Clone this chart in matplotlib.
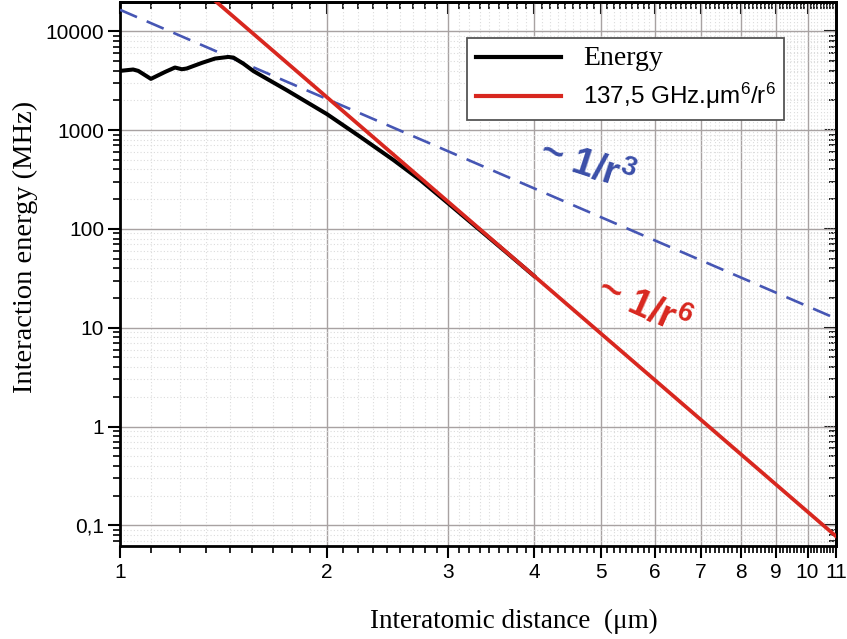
import numpy as np
import matplotlib
matplotlib.use("Agg")
import matplotlib.pyplot as plt
from matplotlib.ticker import FixedLocator, FixedFormatter, NullFormatter

# ---- data ----
energy_r = [1.0, 1.045, 1.063, 1.109, 1.163, 1.202, 1.230, 1.250, 1.315, 1.375,
            1.437, 1.462, 1.512, 1.564, 1.748, 2.0, 2.236, 2.499, 2.734, 3.0,
            3.3, 3.6, 4.0]
energy_v = [3975, 4105, 3975, 3300, 3880, 4300, 4130, 4200, 4786, 5300,
            5500, 5420, 4700, 3950, 2535, 1451, 855, 498, 312, 182,
            104, 62.5, 33.5]
c6 = 137500.0   # MHz.um^6  (137,5 GHz.um^6)
c3 = 16500.0    # MHz.um^3
r_fit = [1.0, 11.0]

x_ticks = [1, 2, 3, 4, 5, 6, 7, 8, 9, 10, 11]
x_ticklabels = ["1", "2", "3", "4", "5", "6", "7", "8", "9", "10", "11"]
y_ticks = [0.1, 1, 10, 100, 1000, 10000]
y_ticklabels = ["0,1", "1", "10", "100", "1000", "10000"]

plt.rcParams['mathtext.fontset'] = 'custom'
plt.rcParams['mathtext.rm'] = 'Liberation Sans'
plt.rcParams['mathtext.it'] = 'Liberation Sans:italic'
plt.rcParams['mathtext.bf'] = 'Liberation Sans:bold'

fig = plt.figure(figsize=(8.47, 6.39), dpi=100)
ax = fig.add_axes([0.1417, 0.1455, 0.987 - 0.1417, 0.9969 - 0.1455])
ax.set_xscale('log')
ax.set_yscale('log')
ax.set_xlim(1, 11)
ax.set_ylim(0.0618, 19800)

red = '#d8271f'
blue = '#4656b4'

rr = np.array(r_fit)
rline = np.geomspace(rr[0], rr[1], 200)
ax.plot(rline, c3 / rline**3, color=blue, lw=1.9, dashes=(7, 4), zorder=3)
ax.plot(energy_r, energy_v, color='black', lw=2.9, zorder=4, label='Energy')
ax.plot(rline, c6 / rline**6, color=red, lw=2.7, zorder=5,
        label=r'137,5 GHz.$\mathrm{\mu}$m$^{6}$/r$^{6}$')

# ticks (Origin style: 8 linear minor ticks between majors on x)
ax.xaxis.set_major_locator(FixedLocator(x_ticks))
ax.xaxis.set_major_formatter(FixedFormatter(x_ticklabels))
xminor = [i + k / 9 for i in range(1, 11) for k in range(1, 9)]
ax.xaxis.set_minor_locator(FixedLocator(xminor))
ax.xaxis.set_minor_formatter(NullFormatter())
ax.yaxis.set_major_locator(FixedLocator(y_ticks))
ax.yaxis.set_major_formatter(FixedFormatter(y_ticklabels))
yminor = [m * 10.0**e for e in range(-2, 5) for m in range(2, 10)]
ax.yaxis.set_minor_locator(FixedLocator(yminor))
ax.yaxis.set_minor_formatter(NullFormatter())

ax.tick_params(which='both', direction='out', width=1.5, labelsize=15,
               top=False, right=False)
ax.tick_params(which='major', length=8.5)
ax.tick_params(which='minor', length=5, width=1.2)
for lab in ax.get_xticklabels() + ax.get_yticklabels():
    lab.set_family('Liberation Sans')
ax.tick_params(axis='x', pad=4)
ax.tick_params(axis='y', pad=3)

# inward ticks on top/right
axt = ax.secondary_xaxis('top')
axt.xaxis.set_major_locator(FixedLocator(x_ticks))
axt.xaxis.set_minor_locator(FixedLocator(xminor))
axt.tick_params(which='both', direction='in', labeltop=False, width=1.5)
axt.tick_params(which='major', length=8.5)
axt.tick_params(which='minor', length=5, width=1.2)
axt.spines['top'].set_linewidth(2)
axr = ax.secondary_yaxis('right')
axr.yaxis.set_major_locator(FixedLocator(y_ticks))
axr.yaxis.set_minor_locator(FixedLocator(yminor))
axr.tick_params(which='both', direction='in', labelright=False, width=1.5)
axr.tick_params(which='major', length=8.5)
axr.tick_params(which='minor', length=5, width=1.2)
axr.spines['right'].set_linewidth(2)

for s in ax.spines.values():
    s.set_linewidth(2)

# grid
ax.grid(which='major', color='#a8a2a2', lw=1.0, ls='-', zorder=0)
ax.grid(which='minor', color='#dcdcdc', lw=0.8, ls=(0, (1, 2)), zorder=0)
ax.set_axisbelow(True)

ax.set_xlabel('Interatomic distance  (μm)', family='Liberation Serif', fontsize=19.5)
ax.xaxis.set_label_coords(0.55, -0.116)
ax.set_ylabel('Interaction energy (MHz)', family='Liberation Serif', fontsize=20.5)
ax.yaxis.set_label_coords(-0.114, 0.55)

leg = ax.legend(loc='upper left', bbox_to_anchor=(0.485, 0.934), fontsize=17.5,
                handlelength=3.5, labelspacing=0.4, borderpad=0.35,
                fancybox=False, framealpha=1, edgecolor='#555555',
                handletextpad=0.9, borderaxespad=0)
leg.get_frame().set_linewidth(1.3)
texts = leg.get_texts()
texts[0].set_family('Liberation Serif')
texts[0].set_fontsize(20)
texts[1].set_family('Liberation Sans')
for h in leg.get_lines():
    h.set_linewidth(3)

ax.text(0.652, 0.70, r'~ 1/r$^{\mathbf{3}}$', transform=ax.transAxes, color='#3a4ea8',
        fontsize=28, fontweight='bold', family='Liberation Sans',
        rotation=-18, ha='center', va='center')
ax.text(0.731, 0.44, r'~ 1/r$^{\mathbf{6}}$', transform=ax.transAxes, color=red,
        fontsize=28, fontweight='bold', family='Liberation Sans',
        rotation=-24, ha='center', va='center')

fig.savefig('out.png', dpi=100)
